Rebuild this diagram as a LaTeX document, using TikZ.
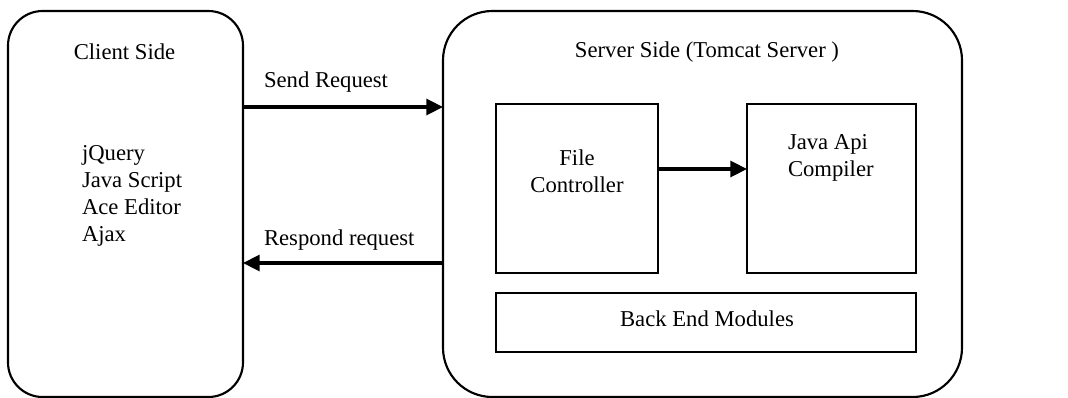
\documentclass[tikz,border=0pt]{standalone}
\usepackage{fontspec}
\setmainfont{Liberation Serif}
\usetikzlibrary{arrows.meta}
\begin{document}
\begin{tikzpicture}[x=0.75pt,y=-0.75pt,
  every node/.style={font=\fontsize{17}{20.3}\selectfont},
  outerbox/.style={draw, line width=1.6pt, outer sep=0pt, inner sep=0pt},
  inbox/.style={draw, line width=1.6pt, outer sep=0pt, inner sep=0pt},
  txt/.style={inner sep=0pt, outer sep=0pt},
  arr/.style={line width=2.4pt, -{Triangle[length=12.5pt,width=12pt]}}]
\useasboundingbox (0,0) rectangle (1068,397);
% outer boxes
\node[outerbox, rounded corners=26pt, minimum width=235*0.75pt, minimum height=386*0.75pt] (client) at (125.5,204) {};
\node[outerbox, rounded corners=37pt, minimum width=519*0.75pt, minimum height=386*0.75pt] (server) at (702.5,204) {};
% inner boxes
\node[inbox, minimum width=162*0.75pt, minimum height=169*0.75pt] (fc) at (577,188.5) {};
\node[inbox, minimum width=169*0.75pt, minimum height=169*0.75pt] (jac) at (831.5,188.5) {};
\node[inbox, minimum width=420*0.75pt, minimum height=59*0.75pt] (be) at (706,322.5) {};
% texts
\node[txt] (clienttitle) at (124.5,52) {Client Side};
\node[txt, anchor=west, align=left] (clientlist) at (82,196) {jQuery\\Java Script\\Ace Editor\\Ajax};
\node[txt] (servertitle) at (707,52) {Server Side (Tomcat Server )};
\node[txt, align=center] (fctext) at (577,171) {File\\Controller};
\node[txt, anchor=west, align=left] (jactext) at (788,158) {Java Api\\Compiler};
\node[txt] (betext) at (707,319) {Back End Modules};
\node[txt, anchor=west] (sendlbl) at (264,82) {Send Request};
\node[txt, anchor=west] (resplbl) at (264,240) {Respond request};
% connectors
\coordinate (sy) at (0,107);
\coordinate (ry) at (0,263);
\coordinate (my) at (0,169);
\draw[arr] (client.east |- sy) -- (server.west |- sy);
\draw[arr] (server.west |- ry) -- (client.east |- ry);
\draw[arr] (fc.east |- my) -- (jac.west |- my);
\end{tikzpicture}
\end{document}
